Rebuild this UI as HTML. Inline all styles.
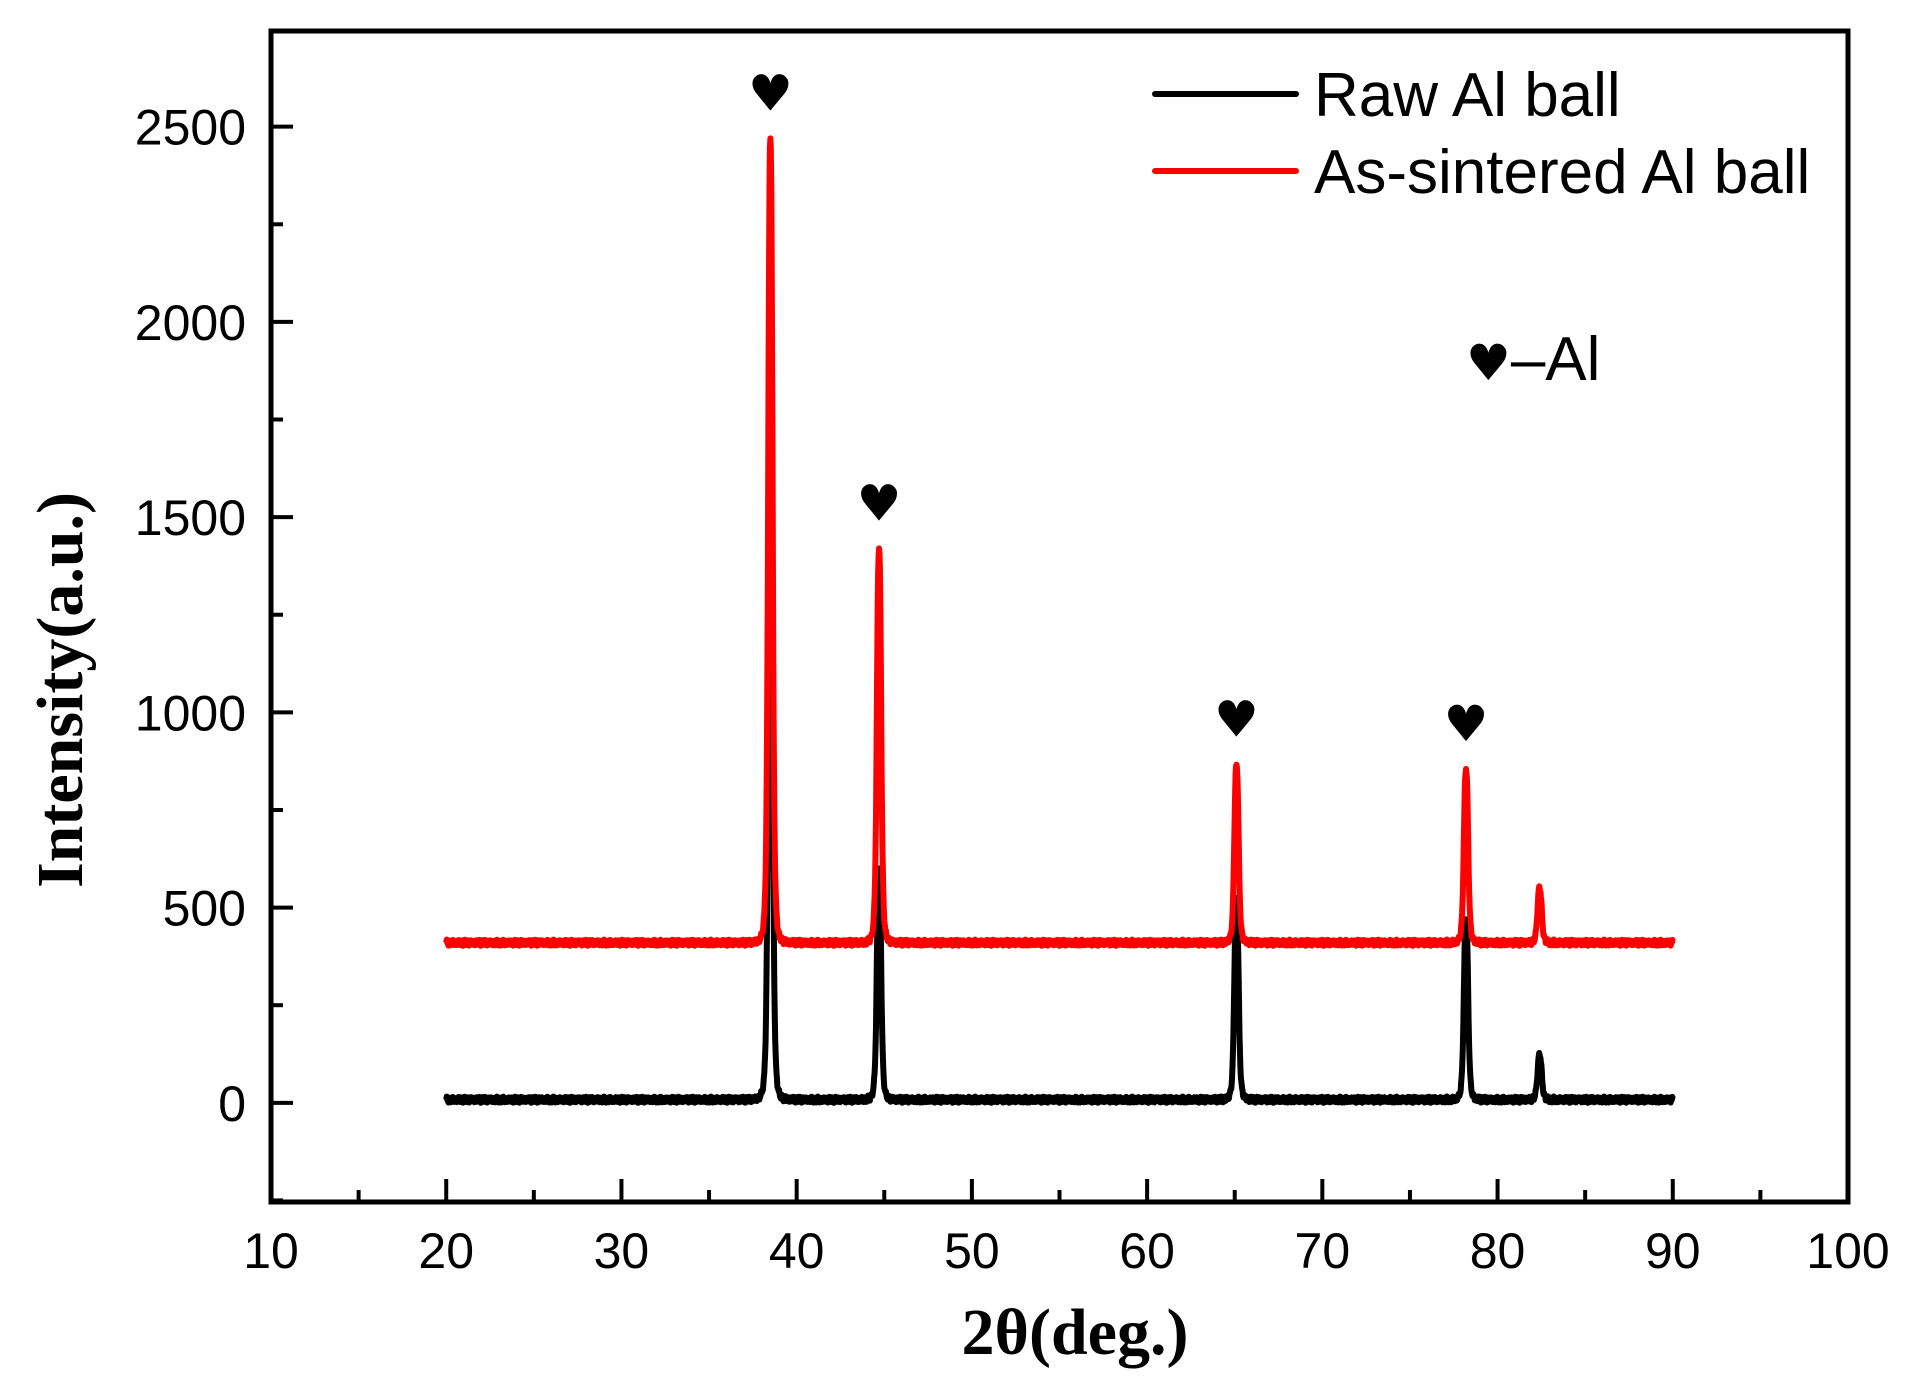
<!DOCTYPE html>
<html><head><meta charset="utf-8"><style>
html,body{margin:0;padding:0;background:#fff;}
svg{display:block;}
</style></head><body>
<svg id="chart" width="1913" height="1397" xmlns="http://www.w3.org/2000/svg">
<rect x="0" y="0" width="1913" height="1397" fill="#fff"/>
<g id="ticks"></g>
<g id="series"></g>
<rect x="271" y="31" width="1577" height="1171" fill="none" stroke="#000" stroke-width="5"/>
<g id="markers"></g>
<text x="67" y="690" transform="rotate(-90 67 690)" text-anchor="middle" dominant-baseline="middle" font-family="Liberation Serif, serif" font-weight="bold" font-size="66">Intensity(a.u.)</text>
<text x="1075" y="1354" text-anchor="middle" font-family="Liberation Serif, serif" font-weight="bold" font-size="66">2θ(deg.)</text>
<g font-family="Liberation Sans, sans-serif" font-size="62">
<line x1="1155" y1="94" x2="1296" y2="94" stroke="#000" stroke-width="6" stroke-linecap="round"/>
<text x="1314" y="116">Raw Al ball</text>
<line x1="1155" y1="171" x2="1296" y2="171" stroke="#f00" stroke-width="6" stroke-linecap="round"/>
<text x="1314" y="193">As-sintered Al ball</text>
</g>
<text x="1466" y="380" font-family="Liberation Sans, DejaVu Sans, sans-serif" font-size="62"><tspan font-family="DejaVu Sans, sans-serif" font-size="50">♥</tspan>–Al</text>
</svg>
<script>
const xTicks = [10,20,30,40,50,60,70,80,90,100];
const yTicks = [0,500,1000,1500,2000,2500];
const peakPos = [38.5, 44.7, 65.1, 78.2, 82.4];
const rawHeights = [1800, 600, 525, 470, 123];
const sinteredHeights = [2470, 1420, 866, 855, 550];
const rawBase = 8;
const sinteredBase = 410;
const xRange = [20, 90];
const markerPos = [38.5, 44.7, 65.1, 78.2];

const X0=271, X1=1848, Y0=1202, Y1=31;
const xd=[10,100], yd=[-254,2745];
const sx = v => X0 + (v-xd[0])/(xd[1]-xd[0])*(X1-X0);
const sy = v => Y0 - (v-yd[0])/(yd[1]-yd[0])*(Y0-Y1);
const NS='http://www.w3.org/2000/svg';
function mk(tag, attrs, parent){const e=document.createElementNS(NS,tag);for(const k in attrs)e.setAttribute(k,attrs[k]);parent.appendChild(e);return e;}

const tg=document.getElementById('ticks');
for(let v=10; v<=100; v+=5){
  const major = v%10===0;
  const t=mk('line',{x1:sx(v),x2:sx(v),y1:Y0,y2:Y0-(major?23:12),stroke:'#000','stroke-width':4},tg);
  
  
}
xTicks.forEach(v=>{
  const t=mk('text',{x:sx(v),y:1268,'text-anchor':'middle','font-family':'Liberation Sans, sans-serif','font-size':50},tg);
  t.textContent=v;
  
  
});
for(let v=-250; v<=2750; v+=250){
  if(v<yd[0]||v>yd[1])continue;
  const major = v%500===0;
  const t=mk('line',{x1:X0,x2:X0+(major?22:12),y1:sy(v),y2:sy(v),stroke:'#000','stroke-width':4},tg);
  
  
}
yTicks.forEach(v=>{
  const t=mk('text',{x:246,y:sy(v)+18,'text-anchor':'end','font-family':'Liberation Sans, sans-serif','font-size':50},tg);
  t.textContent=v;
  
  
});

function profile(x, amps, base){
  let y=base;
  for(let i=0;i<peakPos.length;i++){
    const d=(x-peakPos[i])/0.14;
    y += amps[i]/(1+d*d*d*d*0.6+d*d*0.4);
  }
  y += 5*Math.sin(x*37.1)+3*Math.sin(x*91.7);
  return y;
}
const sg=document.getElementById('series');
function drawSeries(heights, base, color, name){
  const xs=[];
  for(let x=xRange[0]; x<=xRange[1]+1e-9; x+=0.025) xs.push(x);
  peakPos.forEach(p=>xs.push(p));
  xs.sort((a,b)=>a-b);
  const amps=heights.map(h=>h-base);
  let d='';
  xs.forEach(x=>{
    let y=profile(x, amps, base);
    if(peakPos.some(p=>Math.abs(p-x)<1e-9)){ const i=peakPos.findIndex(p=>Math.abs(p-x)<1e-9); y=heights[i]; }
    d += (d?'L':'M')+sx(x).toFixed(1)+' '+sy(y).toFixed(1);
  });
  const p=mk('path',{d:d,fill:'none',stroke:color,'stroke-width':6,'stroke-linejoin':'round'},sg);
  
  
}
drawSeries(rawHeights, rawBase, '#000', 'series-raw-al-ball');
drawSeries(sinteredHeights, sinteredBase, '#f00', 'series-as-sintered-al-ball');

const mg=document.getElementById('markers');
markerPos.forEach(p=>{
  const i=peakPos.indexOf(p);
  const t=mk('text',{x:sx(p),y:sy(sinteredHeights[i])-28,'text-anchor':'middle','font-family':'DejaVu Sans, sans-serif','font-size':50},mg);
  t.textContent='♥';
  
  
});
</script>
</body></html>
